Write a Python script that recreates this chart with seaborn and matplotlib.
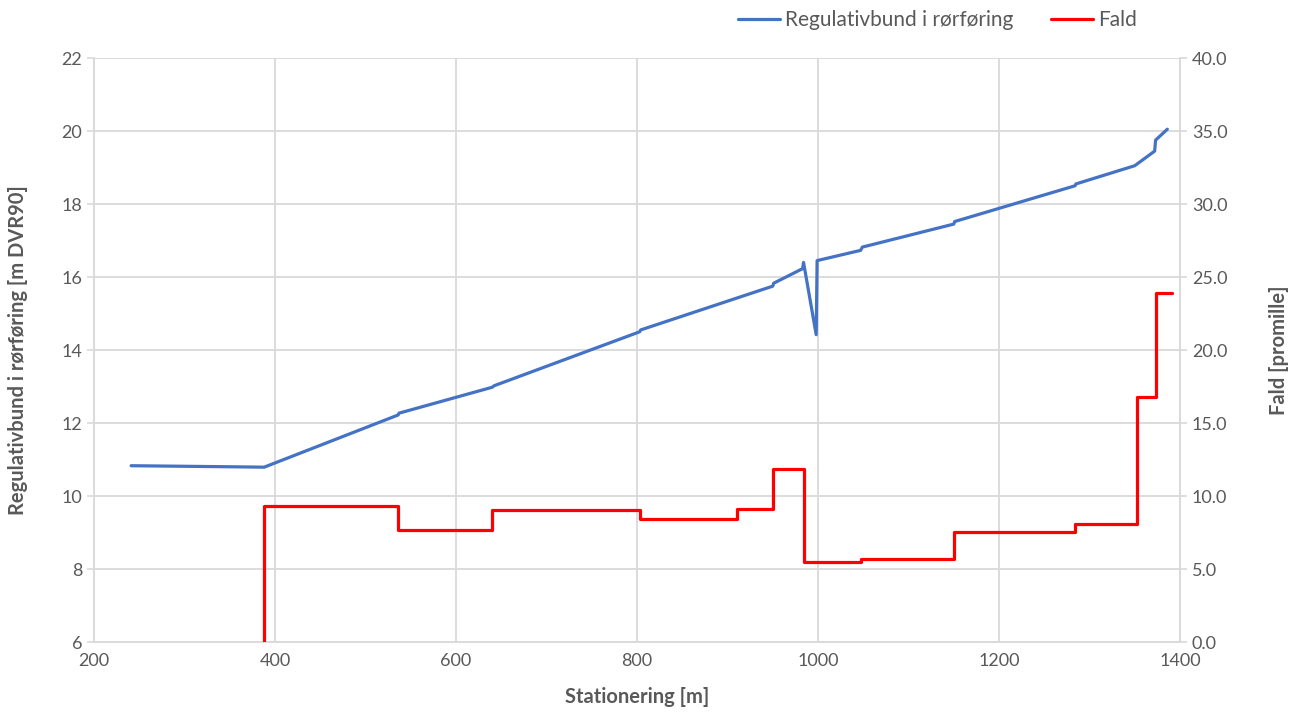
import matplotlib
matplotlib.use("Agg")
import matplotlib.pyplot as plt
import seaborn as sns
import pandas as pd

# Stationing [m] and regulative pipe invert level [m DVR90]
station_bund = [241, 280, 318, 355, 388, 536, 537, 640, 642, 803, 804, 950, 951,
                983, 984, 998, 999, 1047, 1049, 1150, 1151, 1284, 1285, 1350,
                1372, 1373, 1386]
bund = [10.83, 10.82, 10.81, 10.80, 10.79, 12.22, 12.27, 12.98, 13.02, 14.50,
        14.55, 15.75, 15.83, 16.23, 16.40, 14.42, 16.45, 16.73, 16.82, 17.45,
        17.52, 18.50, 18.55, 19.05, 19.45, 19.75, 20.05]

# Slope per pipe section [promille], step-wise from each section start
station_fald = [388, 388, 536, 640, 803, 910, 950, 985, 1048, 1150, 1284, 1352,
                1374, 1391]
fald = [0.0, 9.3, 7.65, 9.06, 8.4, 9.1, 11.85, 5.46, 5.7, 7.53, 8.07, 16.75,
        23.9, 23.9]

x_ticks = [200, 400, 600, 800, 1000, 1200, 1400]
left_ticks = [6, 8, 10, 12, 14, 16, 18, 20, 22]
right_ticks = [0, 5, 10, 15, 20, 25, 30, 35, 40]

df_bund = pd.DataFrame({"Stationering": station_bund, "Niveau": bund})
df_fald = pd.DataFrame({"Stationering": station_fald, "Fald": fald})

sns.set_theme(style="whitegrid")
plt.rcParams["font.family"] = ["Lato", "DejaVu Sans"]

grey = "#595959"
grid_c = "#d9d9d9"
blue = "#4472C4"
red = "#FF0000"

fig = plt.figure(figsize=(12.97, 7.12), dpi=100)
ax = fig.add_axes([0.0725, 0.0983, 0.8373, 0.8202])
ax2 = ax.twinx()

sns.lineplot(data=df_bund, x="Stationering", y="Niveau", ax=ax, color=blue,
             linewidth=2.3, sort=False, estimator=None,
             label="Regulativbund i rørføring", legend=False)
sns.lineplot(data=df_fald, x="Stationering", y="Fald", ax=ax2, color=red,
             linewidth=2.3, sort=False, estimator=None, drawstyle="steps-post",
             label="Fald", legend=False)

ax.set_xlim(200, 1400)
ax.set_ylim(6, 22)
ax2.set_ylim(0, 40)
ax.set_xticks(x_ticks)
ax.set_yticks(left_ticks)
ax2.set_yticks(right_ticks)
ax2.set_yticklabels([f"{v:.1f}" for v in right_ticks])
ax2.grid(False)

ax.grid(True, color=grid_c, linewidth=1.3)
ax.set_axisbelow(True)

for a in (ax, ax2):
    a.spines["top"].set_visible(False)
    for side in ("left", "bottom", "right"):
        a.spines[side].set_color(grid_c)
        a.spines[side].set_linewidth(1.3)
    a.tick_params(colors=grey, labelsize=13, length=5, width=1.2)
    a.tick_params(axis="both", color=grid_c)
ax.tick_params(axis="x", length=0, pad=8)
ax.spines["right"].set_visible(False)
ax2.spines["left"].set_visible(False)
ax2.spines["bottom"].set_visible(False)

ax.set_xlabel("Stationering [m]", fontsize=14.5, fontweight="bold", color=grey,
              labelpad=13)
ax.set_ylabel("Regulativbund i rørføring [m DVR90]", fontsize=14.5,
              fontweight="bold", color=grey, labelpad=24)
ax2.set_ylabel("Fald [promille]", fontsize=14.5, fontweight="bold", color=grey,
               labelpad=30)

h1, l1 = ax.get_legend_handles_labels()
h2, l2 = ax2.get_legend_handles_labels()
leg = fig.legend(h1 + h2, l1 + l2, loc="center", bbox_to_anchor=(0.723, 0.972),
                 ncol=2, frameon=False, fontsize=15, handlelength=2.0,
                 handletextpad=0.25, columnspacing=1.8)
for t in leg.get_texts():
    t.set_color(grey)

fig.savefig("out.png", dpi=100, facecolor="white")
